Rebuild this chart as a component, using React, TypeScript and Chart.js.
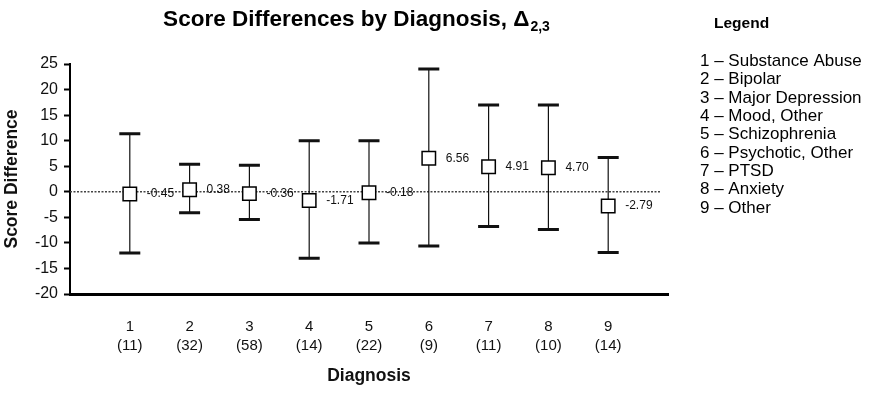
import React, { useEffect, useRef } from "react";
import { Chart, registerables } from "chart.js";

Chart.register(...registerables);

// Diagnosis groups (x position), group sizes, mean score difference and interval bounds
const diagnoses = [1, 2, 3, 4, 5, 6, 7, 8, 9];
const sampleSizes = [11, 32, 58, 14, 22, 9, 11, 10, 14];
const meanDiff = [-0.45, 0.38, -0.36, -1.71, -0.18, 6.56, 4.91, 4.7, -2.79];
const upperBound = [11.35, 5.4, 5.2, 10.0, 10.0, 24.0, 17.0, 17.0, 6.7];
const lowerBound = [-12.0, -4.1, -5.4, -13.0, -10.0, -10.6, -6.8, -7.4, -11.9];

const legendTitle = "Legend";
const legendItems = [
  "1 \u2013 Substance Abuse",
  "2 \u2013 Bipolar",
  "3 \u2013 Major Depression",
  "4 \u2013 Mood, Other",
  "5 \u2013 Schizophrenia",
  "6 \u2013 Psychotic, Other",
  "7 \u2013 PTSD",
  "8 \u2013 Anxiety",
  "9 \u2013 Other",
];

const yMin = -20;
const yMax = 25;
const yStep = 5;

const FONT = "'Liberation Sans', Arial, Helvetica, sans-serif";

const decorations = {
  id: "decorations",
  beforeDatasetsDraw(chart: any) {
    const { ctx, chartArea, scales } = chart;
    const x = scales.x;
    const y = scales.y;
    ctx.save();
    // dotted zero reference line
    const y0 = y.getPixelForValue(0);
    ctx.strokeStyle = "#444";
    ctx.lineWidth = 1.5;
    ctx.setLineDash([2, 1.5]);
    ctx.beginPath();
    ctx.moveTo(chartArea.left, y0);
    ctx.lineTo(chartArea.right - 8, y0);
    ctx.stroke();
    ctx.setLineDash([]);

    // error bars
    diagnoses.forEach((d, i) => {
      const px = x.getPixelForValue(d);
      const top = y.getPixelForValue(upperBound[i]);
      const bot = y.getPixelForValue(lowerBound[i]);
      ctx.strokeStyle = "#111";
      ctx.lineWidth = 1.2;
      ctx.beginPath();
      ctx.moveTo(px, top);
      ctx.lineTo(px, bot);
      ctx.stroke();
      ctx.lineWidth = 3;
      ctx.beginPath();
      ctx.moveTo(px - 10.5, top);
      ctx.lineTo(px + 10.5, top);
      ctx.moveTo(px - 10.5, bot);
      ctx.lineTo(px + 10.5, bot);
      ctx.stroke();
    });
    ctx.restore();
  },
  afterDatasetsDraw(chart: any) {
    const { ctx, scales } = chart;
    const x = scales.x;
    const y = scales.y;
    ctx.save();
    // value labels beside each marker
    ctx.fillStyle = "#111";
    ctx.font = `12px ${FONT}`;
    ctx.textAlign = "left";
    ctx.textBaseline = "middle";
    diagnoses.forEach((d, i) => {
      const px = x.getPixelForValue(d);
      const py = y.getPixelForValue(meanDiff[i]);
      ctx.fillText(meanDiff[i].toFixed(2), px + 17, py);
    });

    // title with subscript
    ctx.fillStyle = "#000";
    ctx.textBaseline = "alphabetic";
    ctx.font = `bold 22.5px ${FONT}`;
    const main = "Score Differences by Diagnosis, \u0394";
    const mw = ctx.measureText(main).width;
    ctx.font = `bold 14px ${FONT}`;
    const sub = "2,3";
    const sw = ctx.measureText(sub).width;
    const startX = 356 - (mw + sw) / 2;
    ctx.font = `bold 22.5px ${FONT}`;
    ctx.fillText(main, startX, 26);
    ctx.font = `bold 14px ${FONT}`;
    ctx.fillText(sub, startX + mw + 1, 31);

    // legend text block
    ctx.font = `bold 15.5px ${FONT}`;
    ctx.fillText(legendTitle, 714, 28);
    ctx.font = `17px ${FONT}`;
    legendItems.forEach((t, i) => {
      ctx.fillText(t, 700, 66 + i * 18.33);
    });
    ctx.restore();
  },
};

export default function App() {
  const canvasRef = useRef<HTMLCanvasElement | null>(null);

  useEffect(() => {
    const canvas = canvasRef.current;
    if (!canvas) return;
    const chart = new Chart(canvas, {
      type: "scatter",
      data: {
        datasets: [
          {
            data: diagnoses.map((d, i) => ({ x: d, y: meanDiff[i] })),
            pointStyle: "rect",
            pointRadius: 9.5,
            pointHoverRadius: 9.5,
            backgroundColor: "#fff",
            borderColor: "#000",
            borderWidth: 1.5,
          },
        ],
      },
      options: {
        animation: false,
        responsive: false,
        maintainAspectRatio: false,
        events: [],
        layout: { padding: { left: 0, top: 64, right: 214, bottom: 0 } },
        plugins: {
          legend: { display: false },
          title: { display: false },
          tooltip: { enabled: false },
        },
        scales: {
          x: {
            type: "linear",
            min: 0,
            max: 10,
            afterBuildTicks: (scale: any) => {
              scale.ticks = diagnoses.map((v) => ({ value: v }));
            },
            afterFit: (scale: any) => {
              scale.height = 402 - 294;
            },
            ticks: {
              autoSkip: false,
              maxRotation: 0,
              padding: 23,
              color: "#111",
              font: { family: FONT, size: 15, lineHeight: 1.3 },
              callback: (v: any) => {
                const i = diagnoses.indexOf(Number(v));
                return i < 0 ? "" : [String(diagnoses[i]), `(${sampleSizes[i]})`];
              },
            },
            grid: { display: true, drawOnChartArea: false, drawTicks: false },
            border: { display: true, color: "#000", width: 3 },
            title: {
              display: true,
              text: "Diagnosis",
              color: "#111",
              font: { family: FONT, size: 17.5, weight: "bold", lineHeight: 1.2 },
              padding: { top: 0, bottom: 15 },
            },
          },
          y: {
            min: yMin,
            max: yMax,
            afterFit: (scale: any) => {
              scale.width = 70;
            },
            ticks: {
              stepSize: yStep,
              padding: 6,
              color: "#111",
              font: { family: FONT, size: 16 },
            },
            grid: {
              display: true,
              drawOnChartArea: false,
              drawTicks: true,
              tickLength: 6,
              tickWidth: 2,
              tickColor: "#000",
            },
            border: { display: true, color: "#000", width: 2 },
            title: {
              display: true,
              text: "Score Difference",
              color: "#111",
              font: { family: FONT, size: 17.5, weight: "bold", lineHeight: 1.2 },
              padding: { top: 2, bottom: 0 },
            },
          },
        },
      },
      plugins: [decorations],
    });
    return () => chart.destroy();
  }, []);

  return (
    <div style={{ position: "absolute", left: 0, top: 0, width: 882, height: 402, background: "#fff" }}>
      <canvas ref={canvasRef} width={882} height={402} style={{ display: "block", width: 882, height: 402 }} />
    </div>
  );
}
